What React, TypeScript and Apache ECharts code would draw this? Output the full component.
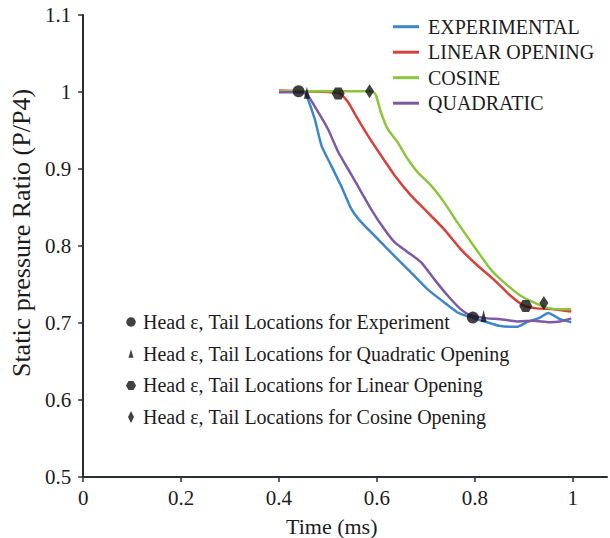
import React, { useEffect, useRef } from "react";
import * as echarts from "echarts";

const xTicks = [0, 0.2, 0.4, 0.6, 0.8, 1];

const experimental: [number, number][] = [
  [0.40, 1.001], [0.44, 1.001], [0.453, 0.999], [0.473, 0.965], [0.487, 0.930], [0.507, 0.904],
  [0.527, 0.878], [0.548, 0.848], [0.568, 0.831], [0.602, 0.809], [0.636, 0.787], [0.669, 0.766],
  [0.703, 0.744], [0.737, 0.727], [0.764, 0.714], [0.784, 0.709], [0.825, 0.701], [0.852, 0.696],
  [0.886, 0.695], [0.906, 0.701], [0.933, 0.707], [0.950, 0.713], [0.974, 0.705], [0.997, 0.701],
];

const linearOpening: [number, number][] = [
  [0.40, 1.002], [0.50, 1.000], [0.521, 0.999], [0.527, 0.997], [0.541, 0.987], [0.561, 0.965],
  [0.581, 0.944], [0.608, 0.918], [0.636, 0.892], [0.669, 0.866], [0.703, 0.844], [0.737, 0.822],
  [0.771, 0.796], [0.805, 0.775], [0.838, 0.757], [0.872, 0.736], [0.899, 0.723], [0.926, 0.719],
  [0.960, 0.718], [0.997, 0.715],
];

const cosine: [number, number][] = [
  [0.40, 1.001], [0.585, 1.001], [0.592, 1.000], [0.598, 0.996], [0.608, 0.974], [0.622, 0.952],
  [0.642, 0.935], [0.663, 0.913], [0.683, 0.896], [0.710, 0.879], [0.737, 0.857], [0.764, 0.831],
  [0.798, 0.800], [0.832, 0.770], [0.859, 0.753], [0.892, 0.736], [0.919, 0.727], [0.946, 0.720],
  [0.974, 0.718], [0.997, 0.718],
];

const quadratic: [number, number][] = [
  [0.40, 0.9996], [0.455, 0.9996], [0.46, 0.995], [0.48, 0.974], [0.50, 0.952], [0.521, 0.922],
  [0.541, 0.900], [0.561, 0.878], [0.588, 0.848], [0.615, 0.822], [0.636, 0.805], [0.663, 0.792],
  [0.690, 0.779], [0.717, 0.757], [0.744, 0.736], [0.771, 0.718], [0.791, 0.710], [0.825, 0.706],
  [0.852, 0.705], [0.886, 0.702], [0.919, 0.703], [0.953, 0.701], [0.974, 0.702], [0.997, 0.706],
];

const headTailExperiment: [number, number][] = [[0.44, 1.001], [0.796, 0.707]];
const headTailQuadratic: [number, number][] = [[0.457, 0.999], [0.818, 0.709]];
const headTailLinear: [number, number][] = [[0.521, 0.998], [0.904, 0.722]];
const headTailCosine: [number, number][] = [[0.585, 1.001], [0.941, 0.726]];

const lineNames = ["EXPERIMENTAL", "LINEAR OPENING", "COSINE", "QUADRATIC"];
const markerNames = [
  "Head \u03b5, Tail Locations for Experiment",
  "Head \u03b5, Tail Locations for Quadratic Opening",
  "Head \u03b5, Tail Locations for Linear Opening",
  "Head \u03b5, Tail Locations for Cosine Opening",
];

const FONT = "'Liberation Serif', 'Times New Roman', serif";
const INK = "#1c1c1c";
const AXIS = "#2a2e33";

const TRI = "path://M5,0 L10,11 L0,11 Z";
const HEX = "path://M0,6 L3.5,0 L10.5,0 L14,6 L10.5,12 L3.5,12 Z";

const LEG_ICONS = [
  "path://M0,0 M14,14 M2.25,7 A4.75,4.75 0 1 1 11.75,7 A4.75,4.75 0 1 1 2.25,7 Z",
  "path://M0,0 M14,14 M7,2.5 L9.5,11 L4.5,11 Z",
  "path://M0,0 M14,14 M2,7 L4.5,2.5 L9.5,2.5 L12,7 L9.5,11.5 L4.5,11.5 Z",
  "path://M0,0 M14,14 M7,1 L10,7 L7,13 L4,7 Z",
];

export default function App() {
  const ref = useRef<HTMLDivElement>(null);
  useEffect(() => {
    document.body.style.margin = "0";
    if (!ref.current) return;
    const chart = echarts.init(ref.current, undefined, { renderer: "svg" });
    const lineSeries = (name: string, data: [number, number][], color: string) => ({
      type: "line",
      name,
      data,
      showSymbol: false,
      symbol: "none",
      smooth: 0.2,
      lineStyle: { color, width: 2.5 },
      itemStyle: { color },
      z: 2,
    });
    const markSeries = (name: string, data: [number, number][], symbol: string, size: any) => ({
      type: "scatter",
      name,
      data,
      symbol,
      symbolSize: size,
      itemStyle: { color: "#111" },
      z: 5,
    });
    chart.setOption({
      animation: false,
      backgroundColor: "#ffffff",
      textStyle: { fontFamily: FONT },
      grid: { left: 80, right: 3, top: 15, bottom: 61, containLabel: false },
      xAxis: {
        type: "value",
        min: 0,
        max: 1.07,
        interval: 0.2,
        axisLine: { show: true, lineStyle: { color: AXIS, width: 2 } },
        axisTick: { show: true, length: 5, lineStyle: { color: AXIS, width: 1.5 }, customValues: xTicks },
        axisLabel: {
          customValues: xTicks,
          margin: 10,
          color: INK,
          fontFamily: FONT,
          fontSize: 21,
          formatter: (v: number) => String(Math.round(v * 10) / 10),
        },
        splitLine: { show: false },
      },
      yAxis: {
        type: "value",
        min: 0.5,
        max: 1.1,
        interval: 0.1,
        name: "Static pressure Ratio (P/P4)",
        nameLocation: "middle",
        nameGap: 43,
        nameTextStyle: { color: INK, fontFamily: FONT, fontSize: 26, padding: [0, 0, 0, 26] },
        axisLine: { show: true, lineStyle: { color: AXIS, width: 2 } },
        axisTick: { show: true, length: 5, lineStyle: { color: AXIS, width: 1.5 } },
        axisLabel: {
          margin: 12,
          color: INK,
          fontFamily: FONT,
          fontSize: 21,
          formatter: (v: number) => String(Math.round(v * 10) / 10),
        },
        splitLine: { show: false },
      },
      legend: [
        {
          data: lineNames.map((n) => ({ name: n, icon: "rect" })),
          orient: "vertical",
          left: 388,
          top: 11.7,
          itemWidth: 26,
          itemHeight: 3,
          itemGap: 5.5,
          textStyle: { color: INK, fontFamily: FONT, fontSize: 20, padding: [0, 0, 0, 4] },
        },
        {
          data: markerNames.map((n, i) => ({ name: n, icon: LEG_ICONS[i] })),
          orient: "vertical",
          left: 119,
          top: 307,
          itemWidth: 14,
          itemHeight: 14,
          itemGap: 11.7,
          textStyle: { color: INK, fontFamily: FONT, fontSize: 20 },
        },
      ],
      graphic: [
        {
          type: "text",
          left: 286,
          top: 515,
          style: { text: "Time (ms)", fill: INK, fontFamily: FONT, fontSize: 22 },
        },
      ],
      series: [
        lineSeries("EXPERIMENTAL", experimental, "#3c87c8"),
        lineSeries("LINEAR OPENING", linearOpening, "#d9403a"),
        lineSeries("COSINE", cosine, "#8cc63e"),
        lineSeries("QUADRATIC", quadratic, "#7d5aa6"),
        markSeries(markerNames[0], headTailExperiment, "circle", 12),
        markSeries(markerNames[1], headTailQuadratic, TRI, [6, 12]),
        markSeries(markerNames[2], headTailLinear, HEX, [13, 12]),
        markSeries(markerNames[3], headTailCosine, "diamond", [9, 14]),
      ],
    });
    return () => chart.dispose();
  }, []);
  return <div ref={ref} style={{ width: 610, height: 538 }} />;
}
